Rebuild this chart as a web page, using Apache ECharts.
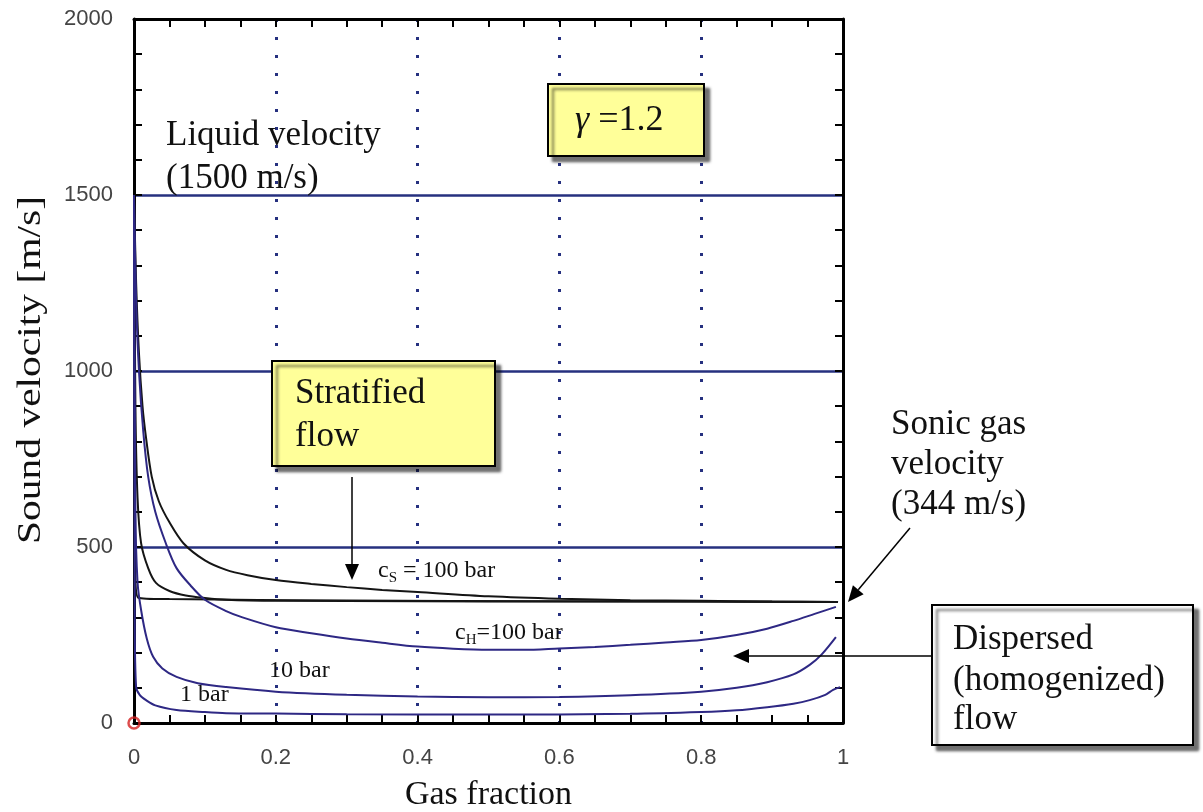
<!DOCTYPE html>
<html>
<head>
<meta charset="utf-8">
<script src="https://cdn.jsdelivr.net/npm/echarts@6/dist/echarts.min.js"></script>
<style>
  html, body { margin: 0; padding: 0; background: #fff; }
  #chart { width: 1203px; height: 812px; }
</style>
</head>
<body>
<div id="chart"></div>
<script>
// curves: gas fraction -> sound velocity (m/s)
var gasStrat100 = [0, 0.003, 0.007, 0.012, 0.017, 0.025, 0.035, 0.05, 0.07, 0.1, 0.13, 0.16, 0.2, 0.25, 0.3, 0.35, 0.4, 0.5, 0.6, 0.7, 0.8, 0.9, 0.993];
var velStrat100 = [1500, 1250, 1050, 900, 810, 700, 630, 570, 510, 462, 435, 420, 406, 395, 386, 378, 372, 360, 353, 349, 347, 345, 344];

var gasStrat10 = [0, 0.002, 0.005, 0.01, 0.02, 0.031, 0.05, 0.073, 0.1, 0.13, 0.2, 0.4, 0.6, 0.8, 0.993];
var velStrat10 = [1500, 900, 640, 511, 440, 398, 375, 362, 355, 350, 347, 346, 345, 345, 344];

var gasStrat1 = [0, 0.002, 0.006, 0.05, 0.3, 0.6, 0.993];
var velStrat1 = [1500, 420, 356, 352, 348, 346, 344];

var gasHom100 = [0, 0.003, 0.007, 0.013, 0.02, 0.03, 0.045, 0.06, 0.08, 0.1, 0.13, 0.153, 0.2, 0.25, 0.3, 0.35, 0.4, 0.45, 0.5, 0.55, 0.6, 0.65, 0.7, 0.75, 0.8, 0.85, 0.893, 0.93, 0.96, 0.99];
var velHom100 = [1500, 1200, 1000, 830, 700, 600, 510, 440, 390, 350, 318, 300, 272, 255, 240, 228, 217, 211, 208, 208, 212, 216, 222, 229, 236, 250, 268, 290, 310, 330];

var gasHom10 = [0, 0.002, 0.005, 0.01, 0.018, 0.027, 0.04, 0.06, 0.09, 0.13, 0.2, 0.3, 0.4, 0.5, 0.6, 0.7, 0.8, 0.85, 0.893, 0.93, 0.953, 0.97, 0.99];
var velHom10 = [1500, 600, 400, 321, 240, 188, 155, 131, 113, 102, 89, 80, 75, 73, 74, 79, 89, 100, 116, 138, 165, 195, 244];

var gasHom1 = [0, 0.001, 0.003, 0.008, 0.017, 0.03, 0.06, 0.1, 0.13, 0.2, 0.3, 0.5, 0.7, 0.8, 0.85, 0.893, 0.93, 0.953, 0.975, 0.986, 0.996];
var velHom1 = [1500, 300, 102, 80, 65, 50, 37, 31, 28, 27, 25, 24, 26, 31, 36, 45, 55, 65, 80, 94, 102];

var BLACK = '#151515';
var BLUE = '#2e2884';
var GRIDBLUE = '#26307f';
var SERIF = '"Liberation Serif", "DejaVu Serif", serif';
var SANS = '"Liberation Sans", Arial, sans-serif';

function pairs(xs, ys) {
  var out = [];
  for (var i = 0; i < xs.length; i++) out.push([xs[i], ys[i]]);
  return out;
}

function curve(name, xs, ys, color) {
  return {
    name: name, type: 'line', data: pairs(xs, ys),
    showSymbol: false, smooth: 0.3, z: 3,
    lineStyle: { color: color, width: 2 }
  };
}

// arrow: line plus filled head, tip at (x2,y2)
function arrow(x1, y1, x2, y2) {
  var dx = x2 - x1, dy = y2 - y1;
  var len = Math.sqrt(dx * dx + dy * dy);
  var ux = dx / len, uy = dy / len;
  var hl = 16, hw = 7;
  var bx = x2 - ux * hl, by = y2 - uy * hl;
  return [{
    type: 'line', z: 100,
    shape: { x1: x1, y1: y1, x2: bx, y2: by },
    style: { stroke: '#000', lineWidth: 1.5 }
  }, {
    type: 'polygon', z: 100,
    shape: { points: [[x2, y2], [bx - uy * hw, by + ux * hw], [bx + uy * hw, by - ux * hw]] },
    style: { fill: '#000' }
  }];
}

function box(x, y, w, h, fill) {
  return {
    type: 'rect', z: 100,
    shape: { x: x, y: y, width: w, height: h },
    style: {
      fill: fill, stroke: '#000', lineWidth: 2,
      shadowColor: 'rgba(0,0,0,0.55)', shadowOffsetX: 5, shadowOffsetY: 5, shadowBlur: 3
    }
  };
}

// text placed by its vertical middle
function txt(x, y, s, size) {
  return { type: 'text', z: 101, x: x, y: y,
    style: { text: s, fill: '#111', font: size + 'px ' + SERIF, verticalAlign: 'middle' } };
}

function subLabel(x, y, main, sub, rest) {
  return { type: 'text', z: 101, x: x, y: y,
    style: {
      verticalAlign: 'middle',
      rich: {
        n: { font: '24px ' + SERIF, fill: '#111' },
        s: { font: '15px ' + SERIF, fill: '#111', padding: [14, 0, 0, 0] }
      },
      text: '{n|' + main + '}{s|' + sub + '}{n|' + rest + '}'
    } };
}

function axisLine() { return { show: true, onZero: false, lineStyle: { color: '#000', width: 3 } }; }
function axisTick() { return { show: true, inside: true, length: 8, lineStyle: { color: '#000', width: 2 } }; }
function minorTick(n) { return { show: true, splitNumber: n, length: 8, lineStyle: { color: '#000', width: 2 } }; }

var chart = echarts.init(document.getElementById('chart'));

var graphics = [
  txt(166, 136, 'Liquid velocity', 35),
  txt(166, 179, '(1500 m/s)', 35),
  box(548, 84, 156, 72, '#ffff99'),
  { type: 'text', z: 101, x: 575, y: 121, style: { verticalAlign: 'middle', rich: {
        g: { font: 'italic 36px ' + SERIF, fill: '#111' },
        n: { font: '36px ' + SERIF, fill: '#111' } },
      text: '{g|γ }{n|=1.2}' } },
  box(272, 361, 223, 105, '#ffff99'),
  txt(295, 394, 'Stratified', 35),
  txt(295, 437, 'flow', 35),
  txt(891, 425, 'Sonic gas', 35),
  txt(891, 465, 'velocity', 35),
  txt(891, 505, '(344 m/s)', 35),
  box(932, 605, 261, 140, '#ffffff'),
  txt(953, 640, 'Dispersed', 35),
  txt(953, 681, '(homogenized)', 35),
  txt(953, 720, 'flow', 35),
  subLabel(378, 571, 'c', 'S', ' = 100 bar'),
  subLabel(455, 633, 'c', 'H', '=100 bar'),
  txt(269, 671, '10 bar', 24),
  txt(180, 695, '1 bar', 24),
  { type: 'text', z: 101, x: 31, y: 370, rotation: Math.PI / 2, scaleX: 1.22,
    style: { text: 'Sound velocity [m/s]', font: '34px ' + SERIF, fill: '#111',
      align: 'center', verticalAlign: 'middle' } }
];
graphics = graphics.concat(arrow(352, 477, 352, 580));
graphics = graphics.concat(arrow(910, 528, 848, 602));
graphics = graphics.concat(arrow(932, 656, 733, 656));

var option = {
  backgroundColor: '#fff',
  animation: false,
  grid: { left: 134, right: 360, top: 19, bottom: 89, containLabel: false, outerBoundsMode: 'none' },
  xAxis: [{
    type: 'value', min: 0, max: 1, interval: 0.2, position: 'bottom',
    name: 'Gas fraction', nameLocation: 'middle', nameGap: 55,
    nameTextStyle: { fontFamily: SERIF, fontSize: 34, color: '#111' },
    axisLine: axisLine(), axisTick: axisTick(), minorTick: minorTick(4),
    axisLabel: { margin: 24, fontFamily: SANS, fontSize: 22, color: '#444',
      formatter: function (v) { return String(v); } },
    splitLine: { show: true, lineStyle: { color: GRIDBLUE, width: 3, type: [3, 15] } }
  }, {
    type: 'value', min: 0, max: 1, interval: 0.2, position: 'top',
    axisLine: axisLine(), axisTick: axisTick(), minorTick: minorTick(4),
    axisLabel: { show: false }, splitLine: { show: false }
  }],
  yAxis: [{
    type: 'value', min: 0, max: 2000, interval: 500, position: 'left',
    axisLine: axisLine(), axisTick: axisTick(), minorTick: minorTick(5),
    axisLabel: { margin: 21, fontFamily: SANS, fontSize: 22, color: '#444',
      formatter: function (v) { return String(v); } },
    splitLine: { show: true, lineStyle: { color: GRIDBLUE, width: 2.5 } }
  }, {
    type: 'value', min: 0, max: 2000, interval: 500, position: 'right',
    axisLine: axisLine(), axisTick: axisTick(), minorTick: minorTick(5),
    axisLabel: { show: false }, splitLine: { show: false }
  }],
  series: [
    curve('stratified 100 bar', gasStrat100, velStrat100, BLACK),
    curve('stratified 10 bar', gasStrat10, velStrat10, BLACK),
    curve('stratified 1 bar', gasStrat1, velStrat1, BLACK),
    curve('homogenized 100 bar', gasHom100, velHom100, BLUE),
    curve('homogenized 10 bar', gasHom10, velHom10, BLUE),
    curve('homogenized 1 bar', gasHom1, velHom1, BLUE),
    {
      name: 'origin', type: 'scatter', data: [[0, 0]], clip: false, z: 10,
      symbol: 'circle', symbolSize: 11,
      itemStyle: { color: 'rgba(255,255,255,0)', borderColor: '#d42020', borderWidth: 2.5 }
    }
  ],
  graphic: graphics
};

chart.setOption(option);
</script>
</body>
</html>
